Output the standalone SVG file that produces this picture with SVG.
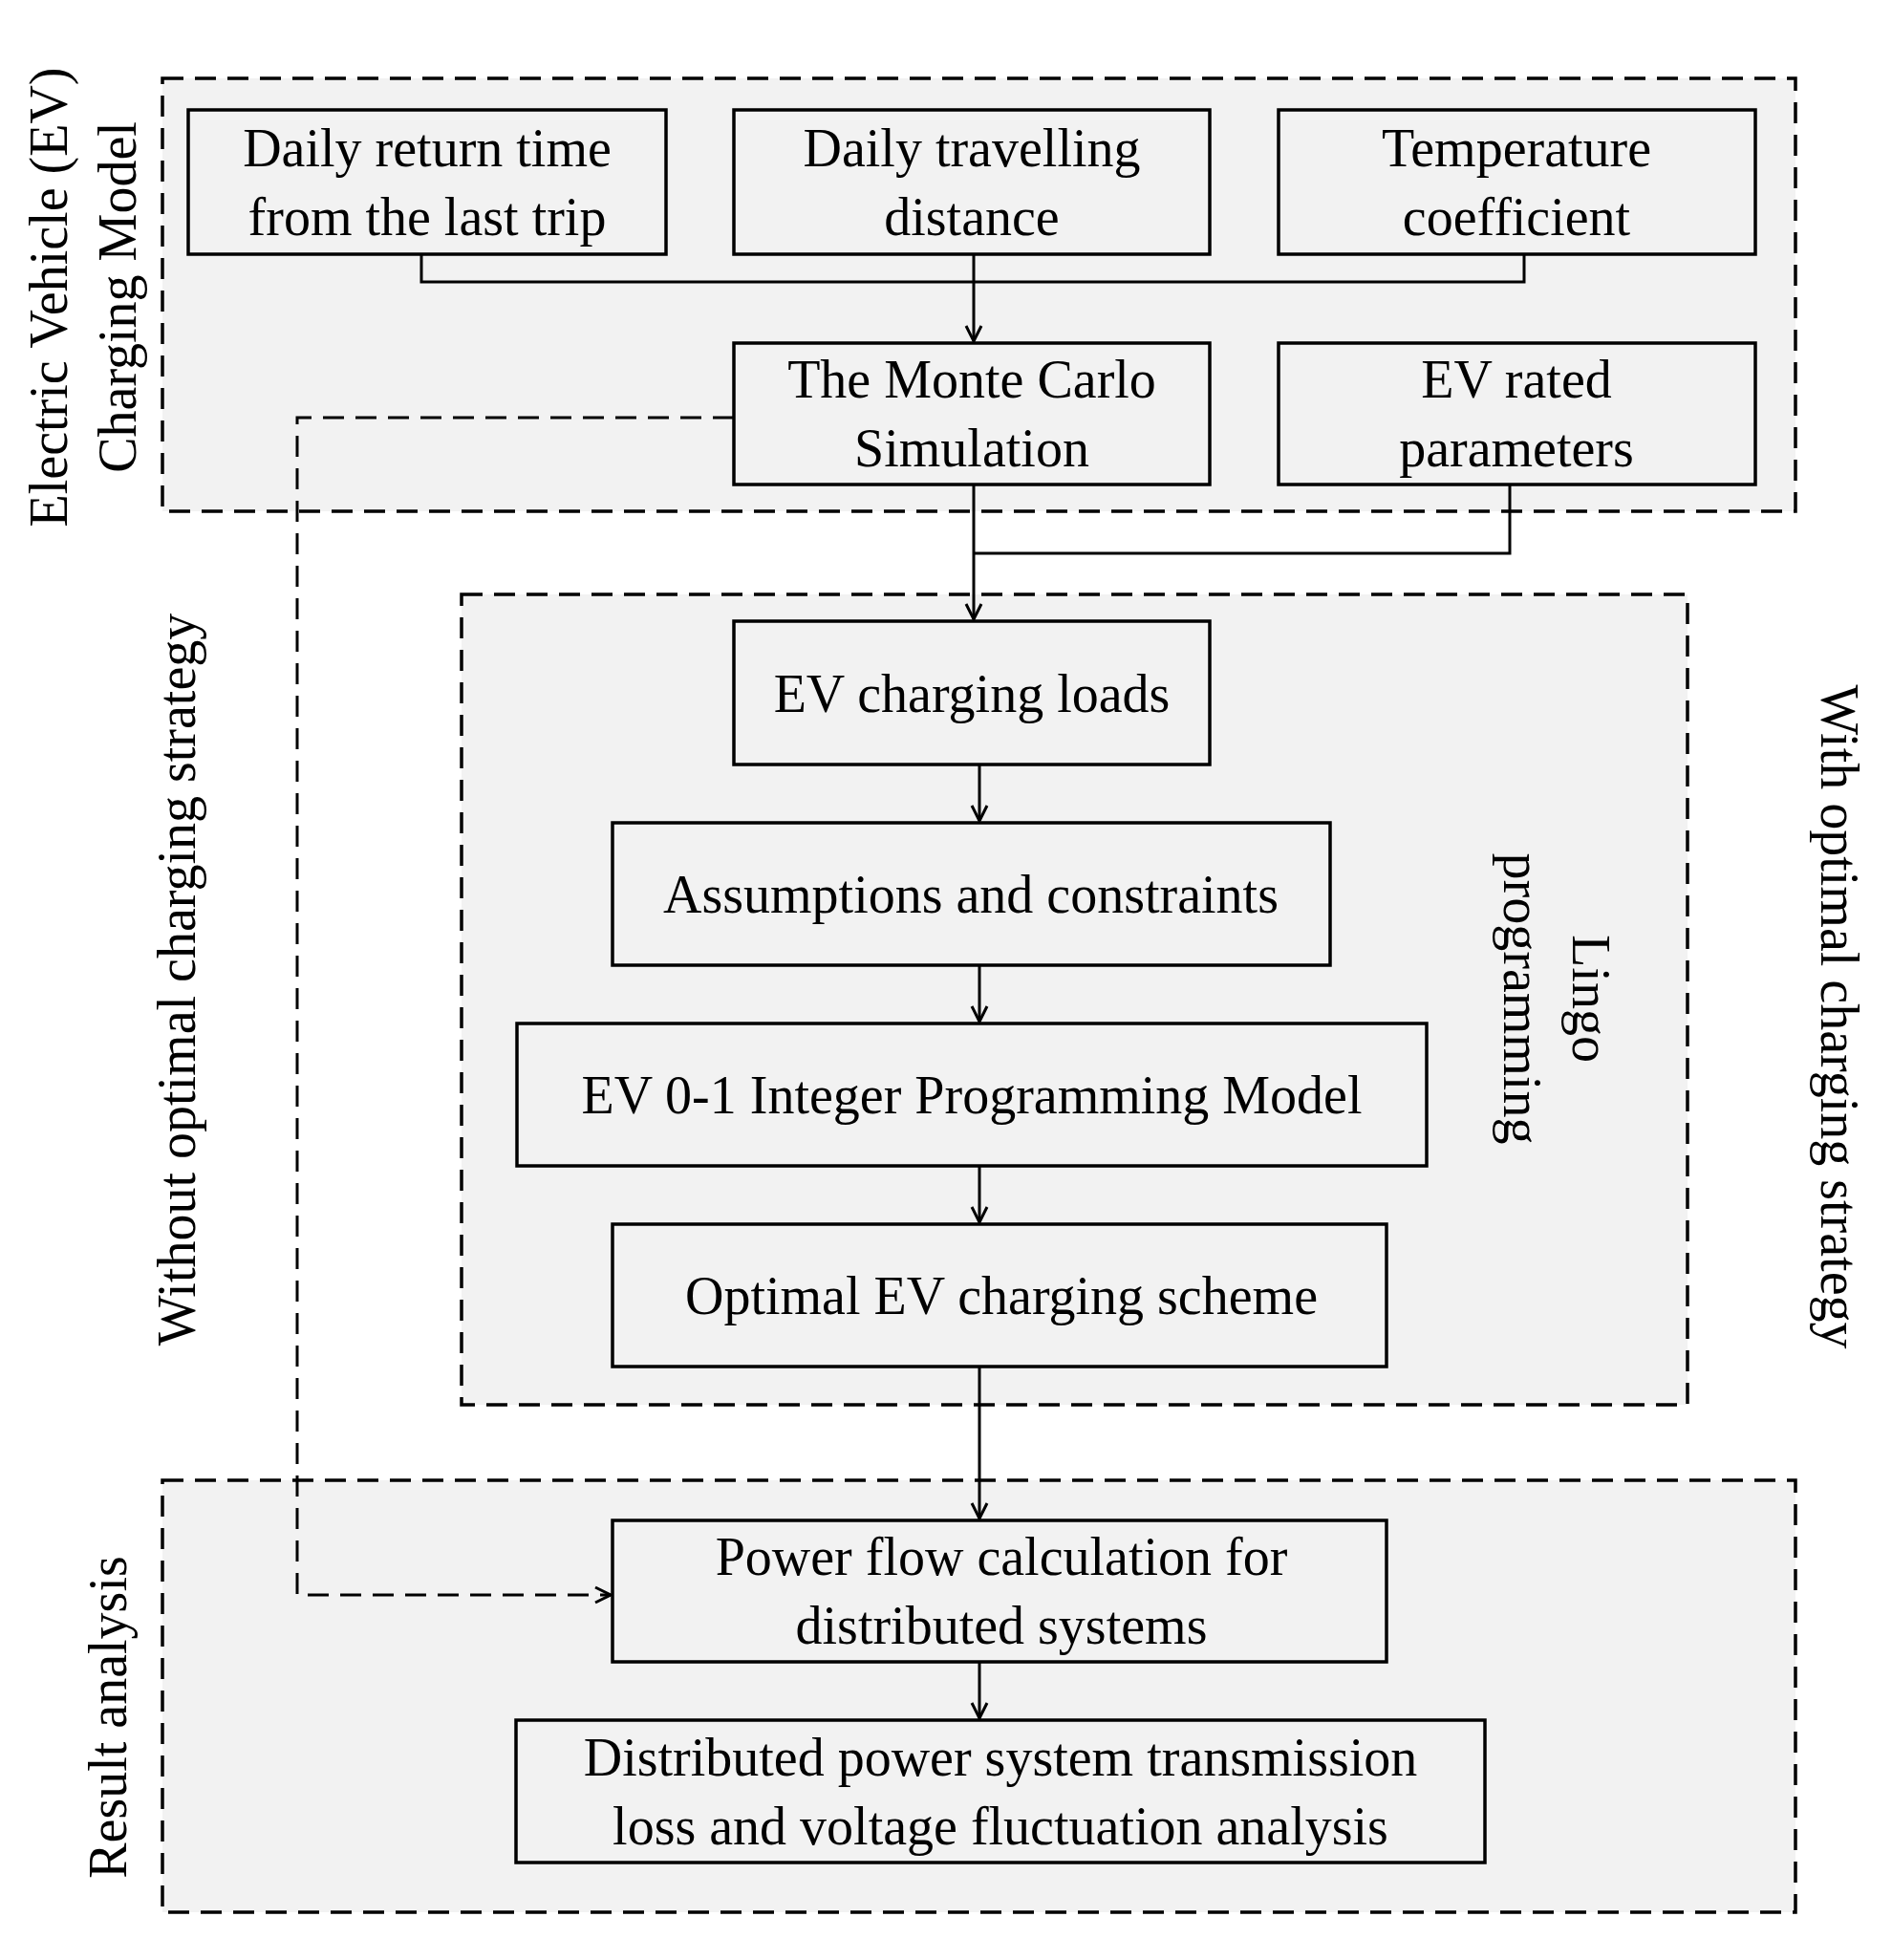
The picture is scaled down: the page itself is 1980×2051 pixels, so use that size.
<svg xmlns="http://www.w3.org/2000/svg" width="1980" height="2051" viewBox="0 0 1980 2051">
<style>
.grp{fill:#f2f2f2;stroke:#000;stroke-width:3.5;stroke-dasharray:22,12}
.box{fill:#f2f2f2;stroke:#000;stroke-width:3.5}
text{font-family:"Liberation Serif","Times New Roman",serif;font-size:56px;fill:#000;text-anchor:middle}
.ln{fill:none;stroke:#000;stroke-width:3}
.dl{fill:none;stroke:#000;stroke-width:3;stroke-dasharray:22,12}
</style>
<defs><marker id="a" markerWidth="20" markerHeight="20" refX="18" refY="10" orient="auto" markerUnits="userSpaceOnUse"><path d="M2,2 L18,10 L2,18" fill="none" stroke="#000" stroke-width="3"/></marker></defs>
<rect width="1980" height="2051" fill="#fff"/>
<g id="groups">
<rect class="grp" x="170" y="82" width="1709" height="453"/>
<rect class="grp" x="483" y="622" width="1283" height="848"/>
<rect class="grp" x="170" y="1549" width="1709" height="452"/>
</g>
<g id="labels">
<text transform="translate(70,311) rotate(-90)">Electric Vehicle (EV)</text>
<text transform="translate(142,311) rotate(-90)">Charging Model</text>
<text transform="translate(204,1025) rotate(-90)">Without optimal charging strategy</text>
<text transform="translate(1906,1064) rotate(90)">With optimal charging strategy</text>
<text transform="translate(1646,1045) rotate(90)">Lingo</text>
<text transform="translate(1574,1045) rotate(90)">programming</text>
<text transform="translate(132,1797) rotate(-90)">Result analysis</text>
</g>
<g id="n1"><rect class="box" x="197" y="115" width="500" height="151"/><text x="447" y="174">Daily return time</text><text x="447" y="246">from the last trip</text></g>
<g id="n2"><rect class="box" x="768" y="115" width="498" height="151"/><text x="1017" y="174">Daily travelling</text><text x="1017" y="246">distance</text></g>
<g id="n3"><rect class="box" x="1338" y="115" width="499" height="151"/><text x="1587" y="174">Temperature</text><text x="1587" y="246">coefficient</text></g>
<g id="n4"><rect class="box" x="768" y="359" width="498" height="148"/><text x="1017" y="416">The Monte Carlo</text><text x="1017" y="488">Simulation</text></g>
<g id="n5"><rect class="box" x="1338" y="359" width="499" height="148"/><text x="1587" y="416">EV rated</text><text x="1587" y="488">parameters</text></g>
<g id="n6"><rect class="box" x="768" y="650" width="498" height="150"/><text x="1017" y="745">EV charging loads</text></g>
<g id="n7"><rect class="box" x="641" y="861" width="751" height="149"/><text x="1016" y="955">Assumptions and constraints</text></g>
<g id="n8"><rect class="box" x="541" y="1071" width="952" height="149"/><text x="1017" y="1165">EV 0-1 Integer Programming Model</text></g>
<g id="n9"><rect class="box" x="641" y="1281" width="810" height="149"/><text x="1048" y="1375">Optimal EV charging scheme</text></g>
<g id="n10"><rect class="box" x="641" y="1591" width="810" height="148"/><text x="1048" y="1648">Power flow calculation for</text><text x="1048" y="1720">distributed systems</text></g>
<g id="n11"><rect class="box" x="540" y="1800" width="1014" height="149"/><text x="1047" y="1858">Distributed power system transmission</text><text x="1047" y="1930">loss and voltage fluctuation analysis</text></g>
<g id="connectors">
<polyline class="ln" points="441,266 441,295 1595,295 1595,266"/>
<line class="ln" x1="1019" y1="266" x2="1019" y2="357" marker-end="url(#a)"/>
<polyline class="ln" points="1580,507 1580,579 1019,579"/>
<line class="ln" x1="1019" y1="507" x2="1019" y2="648" marker-end="url(#a)"/>
<line class="ln" x1="1025" y1="800" x2="1025" y2="859" marker-end="url(#a)"/>
<line class="ln" x1="1025" y1="1010" x2="1025" y2="1069" marker-end="url(#a)"/>
<line class="ln" x1="1025" y1="1220" x2="1025" y2="1279" marker-end="url(#a)"/>
<line class="ln" x1="1025" y1="1430" x2="1025" y2="1589" marker-end="url(#a)"/>
<line class="ln" x1="1025" y1="1739" x2="1025" y2="1798" marker-end="url(#a)"/>
<polyline class="dl" points="768,437 311,437 311,1669 639,1669" marker-end="url(#a)"/>
</g>
</svg>
